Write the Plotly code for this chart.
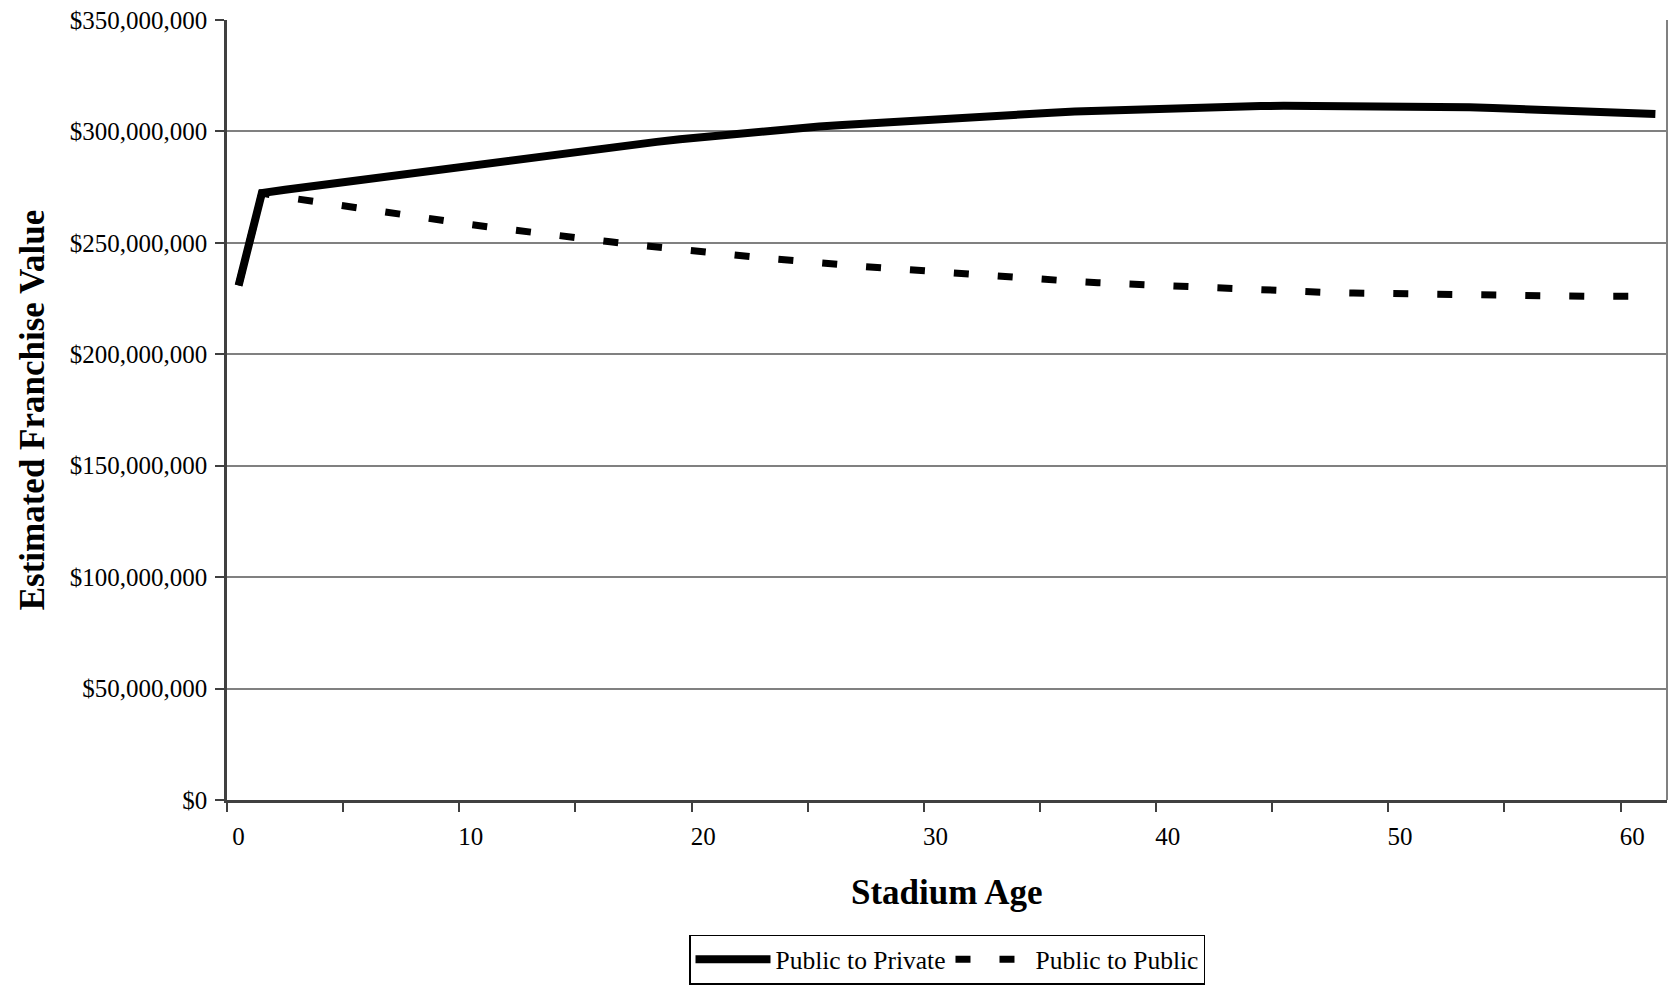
import plotly.graph_objects as go

# ---- data (values in millions of dollars) ----
stadium_age = list(range(62))

public_to_private_m = [
    230.9, 272.3, 273.8, 275.2, 276.6, 278.0, 279.4, 280.8, 282.2, 283.6,
    285.0, 286.4, 287.7, 289.0, 290.3, 291.6, 292.9, 294.1, 295.3, 296.5,
    297.6, 298.7, 299.7, 300.6, 301.4, 302.2, 302.9, 303.6, 304.3, 304.9,
    305.5, 306.1, 306.7, 307.3, 307.9, 308.4, 308.9, 309.3, 309.7, 310.1,
    310.4, 310.7, 311.0, 311.2, 311.4, 311.5, 311.5, 311.5, 311.5, 311.5,
    311.5, 311.3, 311.1, 310.8, 310.5, 310.2, 309.8, 309.5, 309.1, 308.7,
    308.3, 307.8,
]

public_to_public_m = [
    230.9, 272.3, 270.5, 268.9, 267.2, 265.5, 263.9, 262.4, 261.0, 259.6,
    258.2, 256.8, 255.4, 254.2, 253.0, 251.8, 250.5, 249.2, 248.0, 246.9,
    245.8, 244.8, 243.9, 242.9, 241.8, 241.1, 240.2, 239.3, 238.5, 237.7,
    236.9, 236.1, 235.3, 234.5, 233.9, 233.3, 232.7, 232.1, 231.6, 231.1,
    230.5, 230.0, 229.7, 229.3, 228.9, 228.4, 227.9, 227.7, 227.5, 227.3,
    227.0, 226.8, 226.6, 226.3, 226.1, 226.0, 226.0, 226.0, 226.0, 226.0,
    226.0, 226.0,
]

x_tick_labels = [0, 10, 20, 30, 40, 50, 60]
x_minor_ticks = [-0.5 + 5 * i for i in range(13)]
y_tick_values = [0, 50e6, 100e6, 150e6, 200e6, 250e6, 300e6, 350e6]

private_values = [v * 1e6 for v in public_to_private_m]
public_values = [v * 1e6 for v in public_to_public_m]

FONT = "Liberation Serif, Times New Roman, serif"

fig = go.Figure()
fig.add_trace(go.Scatter(
    x=stadium_age, y=private_values, mode="lines", name="Public to Private",
    line=dict(color="black", width=8),
))
fig.add_trace(go.Scatter(
    x=stadium_age, y=public_values, mode="lines", name="Public to Public",
    line=dict(color="black", width=7, dash="15px,29px"),
))

fig.update_layout(
    width=1669, height=985,
    margin=dict(l=226.7, r=2, t=19.5, b=185, autoexpand=False),
    paper_bgcolor="white", plot_bgcolor="white",
    font=dict(family=FONT, color="black", size=25),
    showlegend=True,
    legend=dict(
        orientation="h", x=0.5, xanchor="center", y=-0.2368, yanchor="bottom",
        bordercolor="black", borderwidth=1.5,
        font=dict(family=FONT, size=25.5, color="black"),
        itemwidth=75, tracegroupgap=0, itemclick=False,
    ),
)

fig.update_xaxes(
    range=[-0.5, 61.5], tickmode="array", tickvals=x_tick_labels,
    ticktext=[str(v) for v in x_tick_labels],
    ticks="", showgrid=False, zeroline=False,
    showline=True, linecolor="#404040", linewidth=2.5,
    ticklabelstandoff=12,
    tickfont=dict(family=FONT, size=25, color="black"),
    minor=dict(tickmode="array", tickvals=x_minor_ticks, ticks="outside",
               ticklen=9, tickcolor="#404040", tickwidth=1.5, showgrid=False),
)
fig.update_yaxes(
    range=[0, 350e6], tickmode="array", tickvals=y_tick_values,
    tickformat="$,.0f", ticks="outside", ticklen=9, tickcolor="#404040",
    tickwidth=1.5, showgrid=True, gridcolor="#808080", gridwidth=1.5,
    zeroline=False, showline=True, linecolor="#404040", linewidth=2.5,
    ticklabelstandoff=3,
    tickfont=dict(family=FONT, size=25, color="black"),
)

# right border of plot area
fig.add_shape(type="line", xref="paper", yref="paper", x0=1, x1=1, y0=0, y1=1,
              line=dict(color="#808080", width=2))

fig.add_annotation(
    text="<b>Stadium Age</b>", xref="paper", yref="paper",
    x=0.5, y=-0.1192, xanchor="center", yanchor="middle", showarrow=False,
    font=dict(family=FONT, size=35, color="black"),
)
fig.add_annotation(
    text="<b>Estimated Franchise Value</b>", xref="paper", yref="paper",
    x=-0.1352, y=0.5, xanchor="center", yanchor="middle", showarrow=False,
    textangle=-90, font=dict(family=FONT, size=35, color="black"),
)

fig.write_html(
    "out.html",
    config={"displayModeBar": False},
    post_script="document.body.style.margin='0px';document.body.style.overflow='hidden';",
)
